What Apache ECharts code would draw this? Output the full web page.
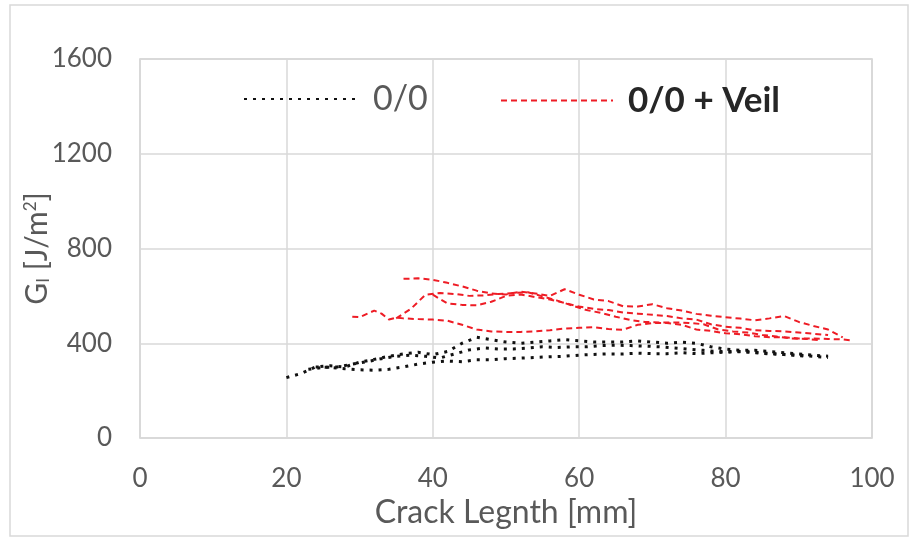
<!DOCTYPE html>
<html>
<head>
<meta charset="utf-8">
<script src="https://cdn.jsdelivr.net/npm/echarts@6/dist/echarts.min.js"></script>
<style>
html,body{margin:0;padding:0;background:#fff;}
#chart{width:914px;height:537px;}
</style>
</head>
<body>
<div id="chart"></div>
<script>
// ---- axis ticks ----
const xTicks = [0, 20, 40, 60, 80, 100];
const yTicks = [0, 400, 800, 1200, 1600];

// ---- 0/0 specimens (black dotted) ----
const plainA_x = [20,22,24,26,28,30,32,34,36,38,40,42,44,46,48,50,52,54,56,58,60,62,64,66,68,70,72,74,76,78,80,82,84,86,88,90,92,94];
const plainA_y = [255,272,300,305,300,320,332,345,355,362,352,365,400,425,415,405,400,405,410,415,410,405,405,405,410,405,400,405,400,385,375,370,370,365,360,355,350,345];
const plainB_x = [23,25,27,29,31,33,35,37,39,41,43,45,47,49,51,53,55,57,59,61,63,65,67,69,71,73,75,77,79,81,83,85,87,89,91];
const plainB_y = [290,298,300,312,322,335,345,350,345,338,355,372,380,376,376,380,385,382,385,385,390,392,390,388,385,380,375,370,365,365,365,360,355,350,345];
const plainC_x = [24,26,28,30,32,34,36,38,40,42,44,46,48,50,52,54,56,58,60,62,64,66,68,70,72,74,76,78,80,82,84,86,88,90,92,94];
const plainC_y = [300,298,292,288,286,290,300,312,320,325,322,330,330,335,337,340,343,345,350,353,355,355,358,356,356,360,356,360,362,364,360,355,352,350,345,340];

// ---- 0/0 + Veil specimens (red dashed) ----
const veilA_x = [36,38,40,42,44,46,48,50,52,54,56,58,60,62,64,66,68,70,72,74,76,78,80,82,84,86,88,90,92,94,96];
const veilA_y = [672,674,668,655,640,622,610,606,618,610,600,628,605,585,578,556,555,565,548,538,524,516,510,504,497,505,515,490,473,458,425];
const veilB_x = [35,37,39,41,43,45,47,49,51,53,55,57,59,61,63,65,67,69,71,73,75,77,79,81,83,85,87,89,91,93];
const veilB_y = [505,545,605,612,608,600,602,608,612,615,598,580,560,540,528,512,498,490,488,488,486,480,458,450,445,435,428,420,418,413];
const veilC_x = [40,42,44,46,48,50,52,54,56,58,60,62,64,66,68,70,72,74,76,78,80,82,84,86,88,90,92,94];
const veilC_y = [605,568,562,560,575,600,606,595,585,570,555,545,540,530,525,520,515,505,500,480,470,465,455,452,450,445,440,435];
const veilD_x = [29,30,32,33,34,35,36,38,40,42,44,46,48,50,52,54,56,58,60,62,64,66,68,70,72,74,76,78,80,82,84,86,88,90,92,94,96,97];
const veilD_y = [512,510,538,525,500,508,505,502,500,495,478,458,450,448,448,450,455,462,465,468,460,457,478,485,485,478,458,452,442,438,430,425,425,420,420,418,416,413];

const plainName = '0/0';
const veilName = '0/0 + Veil';

function pairs(xs, ys){ return xs.map((x,i)=>[x, ys[i]]); }

const dotStyle = {color:'#111', width:3, type:[3,6], cap:'butt'};
const dashStyle = {color:'#ee1c25', width:2, type:[6,4], cap:'butt'};

function plainSeries(xs, ys){
  return {type:'line', name:plainName, data:pairs(xs,ys), symbol:'none', smooth:false,
    lineStyle:dotStyle, itemStyle:{color:'#111'}, animation:false, z:3};
}
function veilSeries(xs, ys){
  return {type:'line', name:veilName, data:pairs(xs,ys), symbol:'none', smooth:false,
    lineStyle:dashStyle, itemStyle:{color:'#ee1c25'}, animation:false, z:2};
}

const font = 'Lato, "Open Sans", sans-serif';
const chart = echarts.init(document.getElementById('chart'));
chart.setOption({
  backgroundColor:'#fff',
  animation:false,
  textStyle:{fontFamily:font},
  graphic:[{type:'rect', shape:{x:10, y:5, width:898, height:531},
    style:{fill:null, stroke:'#d9d9d9', lineWidth:1.5}, silent:true, z:-10}],
  grid:{left:140, right:42, top:59, bottom:99, show:true, borderColor:'#d0d0d0', borderWidth:1.5},
  legend:[
    {left:243, top:82, padding:0, itemWidth:114, itemHeight:14,
     itemStyle:{opacity:0},
     data:[{name:plainName, textStyle:{fontSize:34, color:'#595959', fontFamily:font, padding:[0,0,0,10]}}]},
    {left:500, top:83, padding:0, itemWidth:112, itemHeight:14,
     itemStyle:{opacity:0},
     data:[{name:veilName, textStyle:{fontSize:35, fontWeight:'bold', color:'#262626', fontFamily:font, padding:[0,0,0,10]}}]}
  ],
  xAxis:{type:'value', min:xTicks[0], max:xTicks[xTicks.length-1], interval:xTicks[1]-xTicks[0],
    name:'Crack Legnth [mm]', nameLocation:'middle', nameGap:59, nameMoveOverlap:false,
    nameTextStyle:{fontSize:32, color:'#595959', fontFamily:font},
    axisLine:{show:false}, axisTick:{show:false},
    axisLabel:{fontSize:26, color:'#595959', margin:28, fontFamily:font},
    splitLine:{show:true, lineStyle:{color:'#d9d9d9', width:1.5}}},
  yAxis:{type:'value', min:yTicks[0], max:yTicks[yTicks.length-1], interval:yTicks[1]-yTicks[0],
    name:'{a|G}{sub|I}{a| [J/m}{sup|2}{a|]}', nameLocation:'middle', nameGap:88, nameMoveOverlap:false,
    nameTextStyle:{color:'#595959', fontFamily:font,
      rich:{a:{fontSize:30, color:'#595959', fontFamily:font},
            sub:{fontSize:17, color:'#595959', fontFamily:font, verticalAlign:'bottom', padding:[12,0,0,0]},
            sup:{fontSize:17, color:'#595959', fontFamily:font, verticalAlign:'top', padding:[0,0,12,0]}}},
    axisLine:{show:false}, axisTick:{show:false},
    axisLabel:{fontSize:26, color:'#595959', margin:28, fontFamily:font, formatter:(v)=>String(v)},
    splitLine:{show:true, lineStyle:{color:'#d9d9d9', width:1.5}}},
  series:[
    veilSeries(veilA_x, veilA_y),
    veilSeries(veilB_x, veilB_y),
    veilSeries(veilC_x, veilC_y),
    veilSeries(veilD_x, veilD_y),
    plainSeries(plainA_x, plainA_y),
    plainSeries(plainB_x, plainB_y),
    plainSeries(plainC_x, plainC_y)
  ]
});
</script>
</body>
</html>
